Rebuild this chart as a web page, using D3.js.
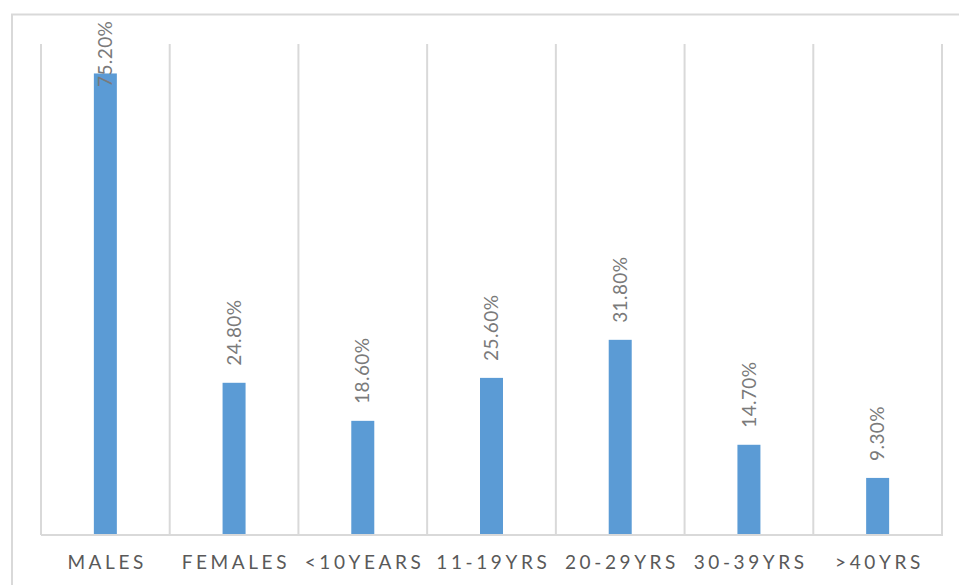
<!DOCTYPE html>
<meta charset='utf-8'>
<style type="text/css">
	body { margin: 0; background: #fff; }
	.tick-label { font-family: Lato, "Open Sans", sans-serif; font-size: 19px; fill: #595959; letter-spacing: 3.6px; }
	.value-label { font-family: Lato, "Open Sans", sans-serif; font-size: 19px; fill: #7a7a7a; letter-spacing: 0.4px; }
</style>
<body>
<div class="chart"></div>
<script src='https://cdn.jsdelivr.net/npm/d3@7/dist/d3.min.js'></script>
<script>

var categories = ['MALES', 'FEMALES', '<10YEARS', '11-19YRS', '20-29YRS', '30-39YRS', '>40YRS'];
var values = [75.2, 24.8, 18.6, 25.6, 31.8, 14.7, 9.3];
var valueLabels = ['75.20%', '24.80%', '18.60%', '25.60%', '31.80%', '14.70%', '9.30%'];
var yMax = 80;

var width = 959, height = 585;
var plot = {left: 41, right: 942, top: 44, bottom: 535};

var svg = d3.select('.chart')
	.append('svg')
	.attr('width', width)
	.attr('height', height);

// outer frame (runs off the right and bottom edges)
svg.append('rect')
	.attr('x', 12)
	.attr('y', 14.5)
	.attr('width', 980)
	.attr('height', 620)
	.attr('fill', 'none')
	.attr('stroke', '#d9d9d9')
	.attr('stroke-width', 2);

var x = d3.scaleBand()
	.domain(categories)
	.range([plot.left, plot.right]);

var y = d3.scaleLinear()
	.domain([0, yMax])
	.range([plot.bottom, plot.top]);

// vertical category separators
var edges = categories.map(function(c){ return x(c); }).concat([plot.right]);
svg.selectAll('.grid')
	.data(edges)
	.enter().append('line')
	.attr('class', 'grid')
	.attr('x1', function(d){ return d; })
	.attr('x2', function(d){ return d; })
	.attr('y1', plot.top)
	.attr('y2', plot.bottom)
	.attr('stroke', '#d9d9d9')
	.attr('stroke-width', 2);

// baseline
svg.append('line')
	.attr('x1', plot.left)
	.attr('x2', plot.right + 1)
	.attr('y1', plot.bottom)
	.attr('y2', plot.bottom)
	.attr('stroke', '#d9d9d9')
	.attr('stroke-width', 2);

var barWidth = 23;

svg.selectAll('.bar')
	.data(values)
	.enter().append('rect')
	.attr('class', 'bar')
	.attr('x', function(d, i){ return x(categories[i]) + x.bandwidth() / 2 - barWidth / 2; })
	.attr('y', function(d){ return y(d); })
	.attr('width', barWidth)
	.attr('height', function(d){ return plot.bottom - y(d) - 1; })
	.attr('fill', '#5b9bd5');

// value labels, rotated; kept inside the frame when the bar is tall
svg.selectAll('.value-label')
	.data(values)
	.enter().append('text')
	.attr('class', 'value-label')
	.attr('transform', function(d, i){
		var cx = x(categories[i]) + x.bandwidth() / 2;
		var cy = Math.max(y(d) - 17, 87);
		return 'translate(' + cx + ',' + cy + ') rotate(-90)';
	})
	.attr('dy', '0.35em')
	.text(function(d, i){ return valueLabels[i]; });

// category labels
svg.selectAll('.tick-label')
	.data(categories)
	.enter().append('text')
	.attr('class', 'tick-label')
	.attr('x', function(d){ return x(d) + x.bandwidth() / 2 + 1.8; })
	.attr('y', 569)
	.attr('text-anchor', 'middle')
	.text(function(d){ return d; });

</script>
</body>
</html>
